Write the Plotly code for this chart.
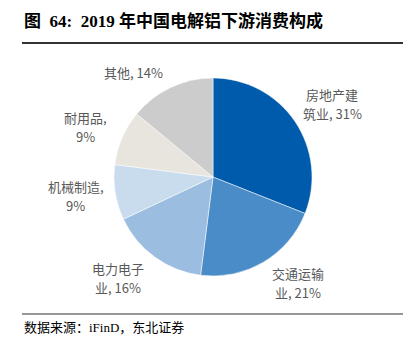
import math
import plotly.graph_objects as go

categories = ["房地产建筑业", "交通运输业", "电力电子业", "机械制造", "耐用品", "其他"]
label_lines = [["房地产建", "筑业, 31%"], ["交通运输", "业, 21%"], ["电力电子", "业, 16%"],
               ["机械制造,", "9%"], ["耐用品,", "9%"], ["其他, 14%"]]
values = [31, 21, 16, 9, 9, 14]
colors = ["#005BAC", "#4A8CC7", "#9BBDE0", "#C9DCEE", "#E8E5DF", "#CCCCCC"]

# label placement style (radius factor, angular nudge in degrees)
label_radius = [1.41, 1.37, 1.40, 1.40, 1.38, 1.33]
label_shift = [2.7, -8.1, 7.2, 1.1, -1.9, -12.1]

W, H = 412, 350
ML, MR, MT, MB = 20, 6, 78, 74
PW, PH = W - ML - MR, H - MT - MB


def px2x(px):
    return (px - ML) / PW


def py2y(py):
    return (H - MB - py) / PH


fig = go.Figure(go.Pie(
    labels=categories, values=values, sort=False, direction="clockwise",
    rotation=0, textinfo="none", hoverinfo="label+percent",
    marker=dict(colors=colors, line=dict(color="white", width=0.5)),
    showlegend=False,
))

cx, cy = ML + PW / 2, MT + PH / 2
r = min(PW, PH) / 2
total = sum(values)
cum = 0
annotations = []
LINE_H = 19
for lines, v, rf, sh in zip(label_lines, values, label_radius, label_shift):
    mid = (cum + v / 2) / total * 360 + sh
    cum += v
    a = math.radians(mid)
    lx = cx + rf * r * math.sin(a)
    ly = cy - rf * r * math.cos(a)
    n = len(lines)
    for i, t in enumerate(lines):
        yy = ly + (i - (n - 1) / 2) * LINE_H
        annotations.append(dict(
            x=px2x(lx), y=py2y(yy), xref="paper", yref="paper", text=t,
            showarrow=False, xanchor="center", yanchor="middle", borderpad=0,
            font=dict(family="Noto Sans CJK SC", size=13, color="#595959")))

annotations.append(dict(
    x=px2x(22), y=py2y(21), xref="paper", yref="paper",
    text="<b>图  64:  2019 年中国电解铝下游消费构成</b>",
    showarrow=False, xanchor="left", yanchor="middle",
    font=dict(family="Liberation Serif, Noto Sans CJK SC", size=17, color="#000000")))
annotations.append(dict(
    x=px2x(22), y=py2y(327), xref="paper", yref="paper",
    text="数据来源：iFinD，东北证券",
    showarrow=False, xanchor="left", yanchor="middle",
    font=dict(family="Liberation Serif, Noto Sans CJK SC", size=13, color="#000000")))

shapes = [
    dict(type="line", xref="paper", yref="paper", x0=px2x(22), x1=px2x(403),
         y0=py2y(43), y1=py2y(43), line=dict(color="#333333", width=2)),
    dict(type="line", xref="paper", yref="paper", x0=px2x(22), x1=px2x(403),
         y0=py2y(314), y1=py2y(314), line=dict(color="#333333", width=1.2)),
]

fig.update_layout(
    width=W, height=H, margin=dict(l=ML, r=MR, t=MT, b=MB),
    paper_bgcolor="white", plot_bgcolor="white",
    annotations=annotations, shapes=shapes,
)
fig.write_html("out.html")
